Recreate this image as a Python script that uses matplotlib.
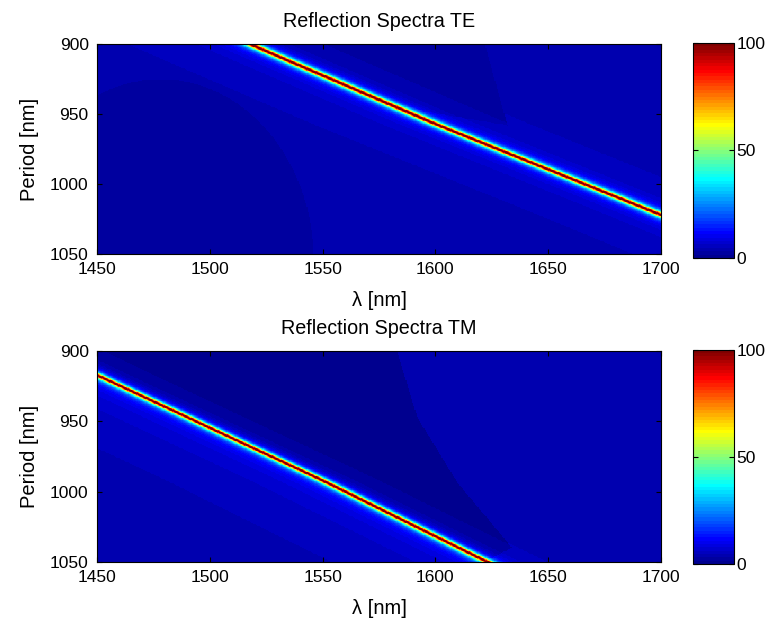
import numpy as np
import matplotlib
matplotlib.use("Agg")
import matplotlib.pyplot as plt
from matplotlib.colors import ListedColormap
from matplotlib.path import Path

plt.rcParams['font.family'] = ['Liberation Sans', 'DejaVu Sans']
plt.rcParams['font.size'] = 12.5

# sampling grid
wavelength = np.arange(1450, 1700.01, 0.5)
period = np.arange(900, 1050.01, 0.5)

# guided-mode resonance position (period -> wavelength)
te_res_period = [900, 957, 1022, 1050]
te_res_wavelength = [1518, 1600, 1700, 1742]
tm_res_period = [900, 917, 992, 1050]
tm_res_wavelength = [1428, 1450, 1550, 1623]

te_linewidth = 2.6
tm_linewidth = 2.2

# off-resonance reflection levels [%]
te_base = 3.9
te_shoulder = [2.2, 40.0]        # amplitude, decay length (nm)
te_right_level = 4.3
te_dark_level = 2.5
te_dark_region = [(1500, 900), (1622, 900), (1632, 958), (1595, 948)]
te_low_level = 2.3
te_low_center = [1478, 1055]
te_low_radius = [68, 130]

tm_base = 3.9
tm_shoulder = [4.5, 37.0]
tm_right_level = 4.0
tm_dark_level = 0.8
tm_dark_region = [(1400, 900), (1583, 900), (1592, 947), (1610, 994),
                  (1634, 1040), (1622, 1050), (1400, 1050)]


def matlab_jet(n=64):
    m = int(np.ceil(n / 4))
    u = np.concatenate([np.arange(1, m + 1) / m, np.ones(m - 1), np.arange(m, 0, -1) / m])
    g = int(np.ceil(m / 2)) - (n % 4 == 1) + np.arange(1, len(u) + 1)
    cmap = np.zeros((n, 3))
    for col, idx in enumerate((g + m, g, g - m)):
        ok = (idx >= 1) & (idx <= n)
        cmap[idx[ok] - 1, col] = u[ok]
    return ListedColormap(cmap)


def spectrum(res_p, res_l, gamma, base, shoulder, right_level, dark_level, dark_region,
             low=None):
    L, P = np.meshgrid(wavelength, period)
    lam0 = np.interp(P, res_p, res_l)
    d = lam0 - L
    left = base + shoulder[0] * np.exp(-np.clip(d, 0, None) / shoulder[1])
    if low is not None:
        level, center, radius = low
        r = np.hypot((L - center[0]) / radius[0], (P - center[1]) / radius[1])
        left = np.where(r < 1, level, left)
    inside = Path(dark_region).contains_points(np.column_stack([L.ravel(), P.ravel()]))
    right = np.where(inside.reshape(L.shape), dark_level, right_level)
    bg = np.where(d > 0, left, right)
    return np.clip(bg + 100.0 / (1 + (d / gamma) ** 2), 0, 100)


te = spectrum(te_res_period, te_res_wavelength, te_linewidth, te_base, te_shoulder,
              te_right_level, te_dark_level, te_dark_region,
              low=(te_low_level, te_low_center, te_low_radius))
tm = spectrum(tm_res_period, tm_res_wavelength, tm_linewidth, tm_base, tm_shoulder,
              tm_right_level, tm_dark_level, tm_dark_region)

fig = plt.figure(figsize=(7.73, 6.2), dpi=100)
cmap = matlab_jet(64)

panels = [
    (te, "Reflection Spectra TE", [0.1255, 0.5903, 0.7296, 0.3387], [0.8965, 0.584, 0.053, 0.347]),
    (tm, "Reflection Spectra TM", [0.1255, 0.0935, 0.7296, 0.3403], [0.8965, 0.090, 0.053, 0.346]),
]

for data, title, pos, cpos in panels:
    ax = fig.add_axes(pos)
    im = ax.imshow(data, cmap=cmap, vmin=0, vmax=100, aspect='auto', origin='upper',
                   interpolation='nearest',
                   extent=[wavelength[0], wavelength[-1], period[-1], period[0]])
    ax.set_xlim(1450, 1700)
    ax.set_ylim(1050, 900)
    ax.set_xticks([1450, 1500, 1550, 1600, 1650, 1700])
    ax.set_yticks([900, 950, 1000, 1050])
    ax.tick_params(direction='in', top=True, right=True, length=3.5, width=0.8, pad=6)
    ax.set_title(title, pad=12, fontsize=14.2)
    ax.set_xlabel("λ [nm]", labelpad=10, fontsize=14.5)
    ax.set_ylabel("Period [nm]", labelpad=8, fontsize=14.5)

    cax = fig.add_axes(cpos)
    cb = fig.colorbar(im, cax=cax, ticks=[0, 50, 100])
    cax.tick_params(direction='in', left=True, right=True, length=3.5, width=0.8, pad=2)

fig.savefig("out.png", dpi=100)
